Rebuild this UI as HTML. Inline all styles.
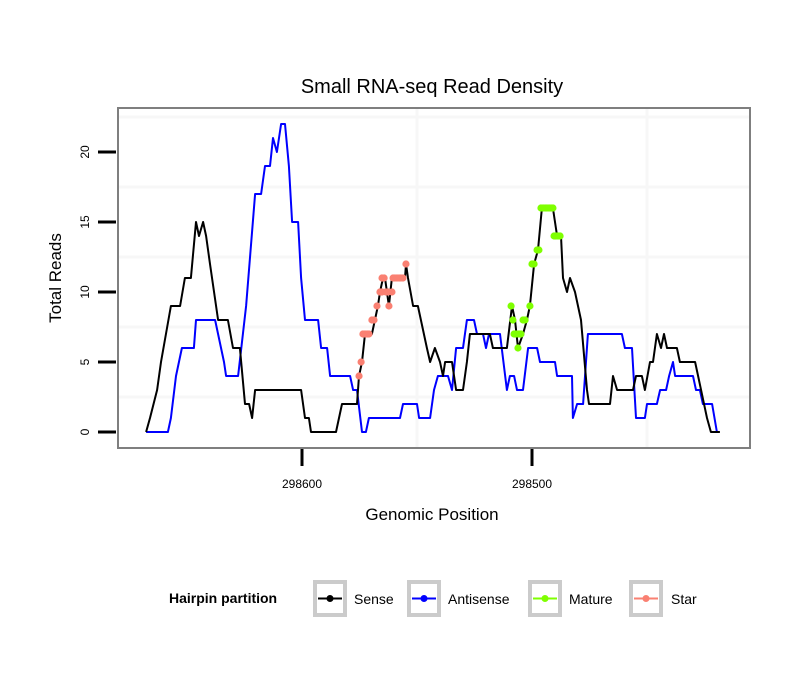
<!DOCTYPE html>
<html><head><meta charset="utf-8"><style>
body{margin:0;background:#fff;}
svg{display:block;font-family:"Liberation Sans",sans-serif;}
</style></head><body>
<svg id="chart" width="810" height="690" viewBox="0 0 810 690">
<rect x="0" y="0" width="810" height="690" fill="#fff"/>
<text x="432" y="93" font-size="20" text-anchor="middle">Small RNA-seq Read Density</text>
<g id="grid"></g>
<g id="series"></g>
<rect x="118" y="108" width="632" height="340" fill="none" stroke="#7f7f7f" stroke-width="2"/>
<g id="axes"></g>
<text x="432" y="520" font-size="17" text-anchor="middle">Genomic Position</text>
<text x="0" y="0" font-size="17" text-anchor="middle" transform="translate(61,278) rotate(-90)">Total Reads</text>
<g>
<text x="169" y="603" font-size="14" font-weight="bold">Hairpin partition</text>
<g>
<rect x="315" y="582" width="30" height="33" fill="#fff" stroke="#cbcbcb" stroke-width="4"/>
<line x1="318" y1="598.5" x2="342" y2="598.5" stroke="#000" stroke-width="2"/><circle cx="330" cy="598.5" r="3.5" fill="#000"/>
<text x="354" y="604" font-size="14">Sense</text></g>
<g>
<rect x="409" y="582" width="30" height="33" fill="#fff" stroke="#cbcbcb" stroke-width="4"/>
<line x1="412" y1="598.5" x2="436" y2="598.5" stroke="#0000ff" stroke-width="2"/><circle cx="424" cy="598.5" r="3.5" fill="#0000ff"/>
<text x="448" y="604" font-size="14">Antisense</text></g>
<g>
<rect x="530" y="582" width="30" height="33" fill="#fff" stroke="#cbcbcb" stroke-width="4"/>
<line x1="533" y1="598.5" x2="557" y2="598.5" stroke="#7fff00" stroke-width="2"/><circle cx="545" cy="598.5" r="3.5" fill="#7fff00"/>
<text x="569" y="604" font-size="14">Mature</text></g>
<g>
<rect x="631" y="582" width="30" height="33" fill="#fff" stroke="#cbcbcb" stroke-width="4"/>
<line x1="634" y1="598.5" x2="658" y2="598.5" stroke="#fa8072" stroke-width="2"/><circle cx="646" cy="598.5" r="3.5" fill="#fa8072"/>
<text x="671" y="604" font-size="14">Star</text></g>
</g>
</svg>
<script>
// positions are bp offsets from origin on reversed (minus) strand: genomic = origin - offset
const origin = 298600;
const senseX = [-67.8,-66.1,-63,-61.3,-57,-53,-50.9,-48.3,-46.1,-44.8,-43,-41.7,-40,-36.5,-32.2,-30,-27,-24.8,-23,-21.7,-20.4,-0.4,1.3,3,3.9,14.8,17.4,23.9,24.8,26.1,27.4,30.4,31.7,33,33.9,35.2,36.1,37.8,39.1,44.8,45.2,46.1,48.3,50.4,54.3,55.7,57.8,60,61.3,62.2,65.2,67,70,71.7,73,81.7,83,89.1,91.3,92.6,93.9,96.1,97.8,99.1,100.9,102.6,104.3,109.1,110.9,112.6,113.5,115.2,116.5,118.7,121.3,123.9,124.8,133.9,135.2,137,143.9,145.2,147.8,149.1,151.3,152.6,154.3,156.1,157.4,158.7,163,164.3,170.9,172.2,176.1,177.8,181.7];
const senseY = [0,1,3,5,9,9,11,11,15,14,15,14,12,8,8,6,6,2,2,1,3,3,1,1,0,0,2,2,4,5,7,7,8,9,10,11,11,9,11,11,12,11,9,9,6,5,6,5,4,5,5,3,3,5,7,7,6,6,9,8,6,7,8,9,12,13,16,16,14,14,11,10,11,10,8,3,2,2,4,3,3,4,4,3,5,5,7,6,7,6,6,5,5,4,1,0,0];
const antiX = [-67.8,-58.3,-57,-54.8,-52.2,-47,-46.1,-37.8,-33.9,-33,-27.8,-25.7,-24.3,-20.4,-17.8,-16.1,-13.9,-12.6,-10.9,-9.1,-7.4,-5.7,-4.3,-1.7,-0.4,1.3,7,8.3,10.9,12.2,20.9,22.2,23.9,26.1,27.8,29.1,42.6,43.9,50,50.9,55.7,57.4,59.1,63.5,65.2,67,70,71.7,74.8,76.1,78.7,80,81.3,86.1,89.1,90.4,92.2,93.5,96.1,98.3,102.2,103.5,110,110.9,117.4,117.8,119.6,122.2,124.3,139.1,140.4,143.5,145.2,149.1,150,154.3,155.7,158.3,159.6,161.3,162.2,170,171.3,173,174.3,178.3,180.4];
const antiY = [0,0,1,4,6,6,8,8,5,4,4,7,9,17,17,19,19,21,20,22,22,19,15,15,11,8,8,6,6,4,4,3,3,0,0,1,1,2,2,1,1,3,4,4,3,6,6,8,8,7,7,6,7,7,3,4,4,3,3,6,6,5,5,4,4,1,2,2,7,7,6,6,1,1,2,2,3,3,4,5,4,4,3,3,2,2,0];
const starX = [24.8,25.7,26.5,27.4,28.3,29.1,30.4,31.3,32.6,33.9,34.8,35.7,34.8,36.5,37.4,37.8,39.1,39.6,40.4,41.3,42.2,43,43.9,45.2];
const starY = [4,5,7,7,7,7,8,8,9,10,11,11,10,10,10,9,10,11,11,11,11,11,11,12];
const matureX = [90.9,91.7,92.2,93,93.9,94.3,95.2,96.1,97,99.1,100,100.9,102.2,103,103.9,104.8,105.7,106.5,107.4,108.3,109.1,109.6,110.4,111.3,112.2];
const matureY = [9,8,7,7,6,7,7,8,8,9,12,12,13,13,16,16,16,16,16,16,16,14,14,14,14];
const yTicks = [0,5,10,15,20];
const xTicks = [298600,298500];
const xTickLabels = ["298600","298500"];

const NS="http://www.w3.org/2000/svg";
function xs(pos){return 302 + (origin - pos)*2.3;}
function xo(off){return xs(origin - off);}
function ys(v){return 432 - v*14;}
function mk(tag,attrs,parent){const e=document.createElementNS(NS,tag);for(const k in attrs)e.setAttribute(k,attrs[k]);parent.appendChild(e);return e;}
const grid=document.getElementById('grid'),ser=document.getElementById('series'),axes=document.getElementById('axes');
mk('rect',{x:118,y:108,width:632,height:340,fill:'#fff'},grid);
[2.5,7.5,12.5,17.5,22.5].forEach(v=>{const l=mk('line',{x1:119,x2:749,y1:ys(v),y2:ys(v),stroke:'#f7f7f7','stroke-width':3},grid);

});
[298550,298450].forEach(p=>{const l=mk('line',{x1:xs(p),x2:xs(p),y1:109,y2:447,stroke:'#f7f7f7','stroke-width':3},grid);

});
yTicks.forEach(v=>{const t=mk('line',{x1:98,x2:116,y1:ys(v),y2:ys(v),stroke:'#000','stroke-width':3},axes);


const tx=mk('text',{x:0,y:0,'font-size':12,'text-anchor':'middle',transform:`translate(89,${ys(v)}) rotate(-90)`},axes);tx.textContent=v;

});
xTicks.forEach((p,i)=>{const t=mk('line',{x1:xs(p),x2:xs(p),y1:449,y2:466,stroke:'#000','stroke-width':3},axes);


const tx=mk('text',{x:xs(p),y:488,'font-size':12,'text-anchor':'middle'},axes);tx.textContent=xTickLabels[i];

});
function line(X,Y,col,name){let d='';X.forEach((x,i)=>{d+=(i?'L':'M')+xo(x).toFixed(1)+','+ys(Y[i]).toFixed(1);});
const p=mk('path',{d:d,fill:'none',stroke:col,'stroke-width':2,'stroke-linejoin':'round'},ser);

}
line(antiX,antiY,'#0000ff','antisense-line');
line(senseX,senseY,'#000','sense-line');
function pts(X,Y,col,name){X.forEach((x,i)=>{const c=mk('circle',{cx:xo(x),cy:ys(Y[i]),r:3.6,fill:col},ser);

});}
pts(starX,starY,'#fa8072','star-point');
pts(matureX,matureY,'#7fff00','mature-point');
</script>
</body></html>
